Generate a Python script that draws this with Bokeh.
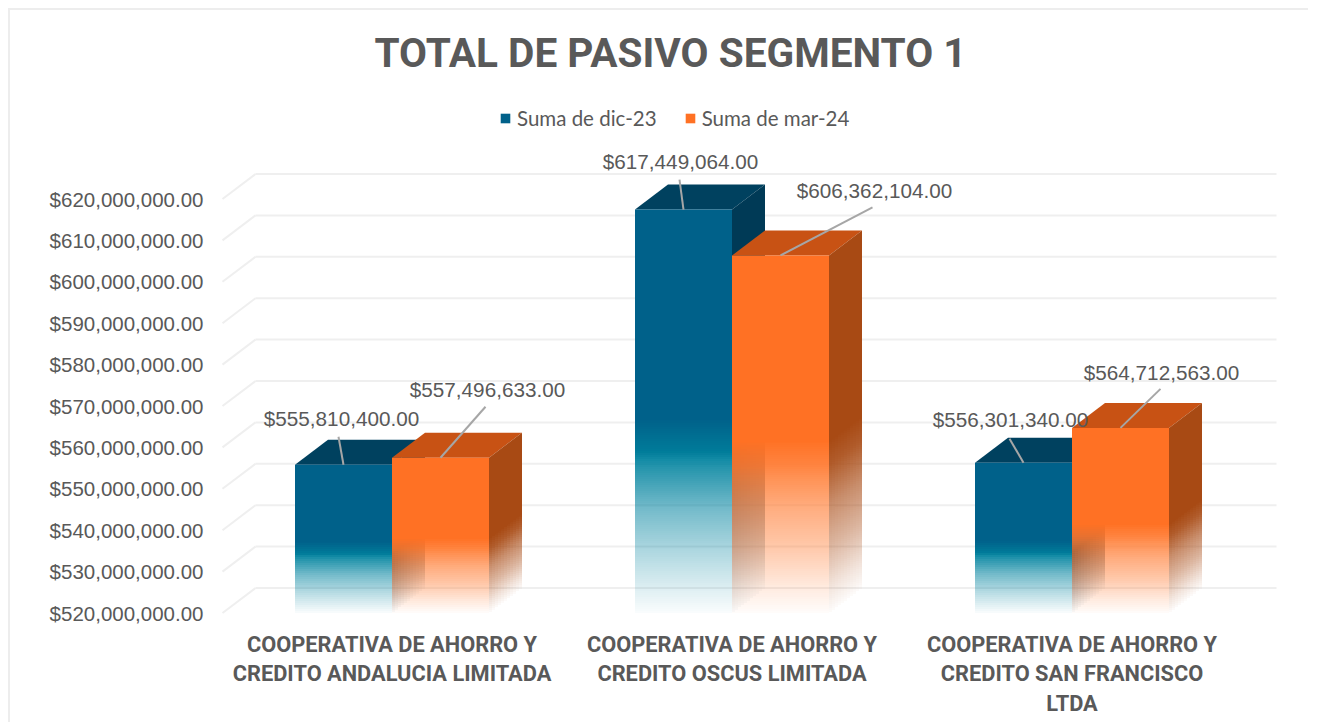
import numpy as np
from bokeh.plotting import figure
from bokeh.models import (ColumnDataSource, FixedTicker, NumeralTickFormatter, Legend, LegendItem)
from bokeh.core.properties import value
from bokeh.embed import file_html
from bokeh.resources import INLINE

title_text = "TOTAL DE PASIVO SEGMENTO 1"
categories = ["COOPERATIVA DE AHORRO Y\nCREDITO ANDALUCIA LIMITADA",
              "COOPERATIVA DE AHORRO Y\nCREDITO OSCUS LIMITADA",
              "COOPERATIVA DE AHORRO Y\nCREDITO SAN FRANCISCO\nLTDA"]
series_names = ["Suma de dic-23", "Suma de mar-24"]
dic_23 = [555810400.00, 617449064.00, 556301340.00]
mar_24 = [557496633.00, 606362104.00, 564712563.00]
y_ticks = [520e6 + 10e6 * k for k in range(11)]

# ---- layout (pixels on the page -> data units)
ORIGIN = 10                              # figure starts here; its faint top/left edge sits just outside
W, H = 1310 - ORIGIN, 724 - ORIGIN
FL, FR, FT, FB = 210, 1310, 90, 631      # frame edges on the page
BASE_PX = 612.5                          # page row of the chart's base value (canvas draws +0.5)
PX_PER_CAT = 340.0
CAT0_X = 391.5
Y_BASE = 520e6
UNITS_PER_PX = 100e6 / 414.0
BAR_W = 97.0 / PX_PER_CAT
DX_PX, DY_PX = 33, 25
DX = DX_PX / PX_PER_CAT
DY = DY_PX * UNITS_PER_PX
GREY = "#595959"

def xpx(p):
    return (p - CAT0_X) / PX_PER_CAT

def ypx(p):
    return Y_BASE + (BASE_PX - p) * UNITS_PER_PX

p = figure(width=W, height=H, output_backend="svg", toolbar_location=None,
           x_range=(xpx(FL), xpx(FR)),
           y_range=(ypx(FB), ypx(FT)),
           min_border_left=FL - ORIGIN, min_border_right=0, min_border_top=FT - ORIGIN,
           min_border_bottom=724 - FB, background_fill_color="white",
           border_fill_color="white", title=title_text,
           styles={"margin-left": f"{ORIGIN}px", "margin-top": f"{ORIGIN}px",
                   "box-shadow": "-2px -2px 0 #ededed"})
p.outline_line_color = None
p.grid.visible = False
p.title.text_font = "Roboto"
p.title.text_font_style = "bold"
p.title.text_font_size = "40.6px"
p.title.text_color = GREY
p.title.align = "left"
p.title.offset = 164
p.title.standoff = 28

ax = p.yaxis[0]
ax.ticker = FixedTicker(ticks=y_ticks)
ax.formatter = NumeralTickFormatter(format="$0,0.00")
ax.axis_line_color = None
ax.major_tick_line_color = None
ax.minor_tick_line_color = None
ax.major_tick_out = 0
ax.major_label_standoff = 7
ax.major_label_text_font = "Liberation Sans"
ax.major_label_text_font_size = "20.5px"
ax.major_label_text_color = GREY

bx = p.xaxis[0]
bx.ticker = FixedTicker(ticks=[0, 1, 2])
bx.major_label_overrides = {i: c for i, c in enumerate(categories)}
bx.axis_line_color = None
bx.major_tick_line_color = None
bx.minor_tick_line_color = None
bx.major_tick_out = 0
bx.major_label_standoff = 0
bx.major_label_text_font = "Roboto"
bx.major_label_text_font_style = "bold"
bx.major_label_text_font_size = "21.8px"
bx.major_label_text_color = GREY
bx.major_label_text_line_height = 1.19

# ---- back wall grid + floor/side diagonals
gx0, gx1, gx2 = xpx(222), xpx(255), xpx(1276)
yt = np.array(y_ticks)
p.segment(x0=[gx1] * 11, x1=[gx2] * 11, y0=yt + DY, y1=yt + DY, line_color="#efefef", line_width=2)
p.segment(x0=[gx0] * 11, x1=[gx1] * 11, y0=yt, y1=yt + DY, line_color="#efefef", line_width=2)

def hex2rgb(h):
    return np.array([int(h[i:i + 2], 16) for i in (1, 3, 5)], dtype=float)

def mix(a, b, t):
    c = hex2rgb(a) * (1 - t) + hex2rgb(b) * t
    return "#%02x%02x%02x" % tuple(int(round(v)) for v in c)

ALPHA_F = [0.0, 0.60, 0.64, 0.74, 0.84, 0.945, 1.0]
ALPHA_V = [1.0, 1.00, 0.85, 0.55, 0.33, 0.12, 0.02]
ALPHA_F_O = [0.0, 0.52, 0.59, 0.70, 0.82, 0.93, 1.0]
ALPHA_V_O = [1.0, 1.00, 0.90, 0.63, 0.40, 0.15, 0.02]
SOLID = 0.52
STEP = 2
COL_W = 3

def draw_bar(x0, val, front, band, top, side, af, av):
    x1 = x0 + BAR_W
    h_px = (val - Y_BASE) / UNITS_PER_PX
    top_px = int(np.floor(h_px * (1 - SOLID)))
    solid_y = Y_BASE + top_px * UNITS_PER_PX
    edges = np.arange(0, top_px + STEP, STEP)
    edges[-1] = top_px
    lo = Y_BASE + edges[:-1] * UNITS_PER_PX
    hi = Y_BASE + edges[1:] * UNITS_PER_PX
    frac = 1 - (edges[:-1] + edges[1:]) / 2 / h_px
    a = np.interp(frac, af, av)
    # top face
    p.patch([x0, x1, x1 + DX, x0 + DX], [val, val, val + DY, val + DY],
            fill_color=top, line_color=None)
    # side face: solid part, then pixel-aligned cells that fade towards the floor
    p.patch([x1, x1 + DX, x1 + DX, x1], [solid_y, solid_y + DY, val + DY, val],
            fill_color=side, line_color=None)
    sl, sr, sb, st, sa = [], [], [], [], []
    for c in range(DX_PX // COL_W):
        shift = (c + 0.5) * COL_W / DX_PX * DY_PX
        e = np.arange(int(round(shift)), int(round(shift)) + top_px + 4, STEP)
        fr = 1 - ((e + STEP / 2) - shift) / h_px
        sl += [x1 + c * COL_W / PX_PER_CAT] * len(e)
        sr += [x1 + (c + 1) * COL_W / PX_PER_CAT] * len(e)
        sb += list(Y_BASE + e * UNITS_PER_PX)
        st += list(Y_BASE + (e + STEP) * UNITS_PER_PX)
        sa += list(np.interp(fr, af, av))
    p.quad(left=sl, right=sr, bottom=sb, top=st, fill_color=side, fill_alpha=sa, line_color=None)
    # front face: solid part, then pixel-aligned bands
    solid = p.quad(left=[x0], right=[x1], bottom=[solid_y], top=[val], fill_color=front, line_color=None)
    cols = [mix(front, band, float(np.clip((f - SOLID) / 0.10, 0, 1))) for f in frac]
    p.quad(left=[x0] * len(lo), right=[x1] * len(lo), bottom=lo, top=hi,
           fill_color=cols, fill_alpha=list(a), line_color=None)
    return solid

r_blue, r_orange = None, None
for i in range(3):
    r_blue = draw_bar(i - BAR_W, dic_23[i], "#00618a", "#00829e", "#00415f", "#003a56", ALPHA_F, ALPHA_V)
    r_orange = draw_bar(float(i), mar_24[i], "#ff7124", "#ff7a30", "#c85214", "#a84a14", ALPHA_F_O, ALPHA_V_O)

# ---- data labels with leader lines (offsets in pixels from the bar's top centre)
vals = dic_23 + mar_24
cx = [i - BAR_W / 2 for i in range(3)] + [i + BAR_W / 2 for i in range(3)]
leader_end = [(-5, 28), (-4, 30), (-14, 24), (45, 51), (92, 48), (40, 39)]
label_off = [(-2, 46), (-3, 48), (-13, 43), (47, 68), (94, 65), (41, 55)]
labels = ["${:,.2f}".format(v) for v in vals]

p.segment(x0=cx, y0=vals,
          x1=[c + e[0] / PX_PER_CAT for c, e in zip(cx, leader_end)],
          y1=[v + e[1] * UNITS_PER_PX for v, e in zip(vals, leader_end)],
          line_color="#a6a6a6", line_width=2)
src = ColumnDataSource(dict(x=cx, y=vals, t=labels,
                            ox=[o[0] for o in label_off],
                            oy=[-o[1] for o in label_off]))
p.text(x="x", y="y", text="t", x_offset="ox", y_offset="oy", source=src,
       text_font=value("Liberation Sans"), text_font_size="20.7px",
       text_color=GREY, text_align="center", text_baseline="middle")

legend = Legend(items=[LegendItem(label=series_names[0], renderers=[r_blue]),
                       LegendItem(label=series_names[1], renderers=[r_orange])],
                orientation="horizontal", location=(289, 501),
                border_line_color=None, background_fill_alpha=0,
                label_text_font="Lato", label_text_font_size="20.5px", label_text_color=GREY,
                glyph_width=12, glyph_height=12, spacing=27, label_standoff=6,
                margin=0, padding=4)
p.add_layout(legend, "center")

# swatches of the legend fade at their foot, as the bars do
for sx in (499.5, 684.5):
    p.quad(left=[xpx(sx)] * 3, right=[xpx(sx + 12)] * 3,
           bottom=[ypx(r + 1) for r in (121.5, 122.5, 123.5)], top=[ypx(r) for r in (121.5, 122.5, 123.5)],
           fill_color="white", fill_alpha=[0.3, 0.6, 0.85], line_color=None, level="overlay")

open("out.html", "w").write(file_html(p, INLINE))
